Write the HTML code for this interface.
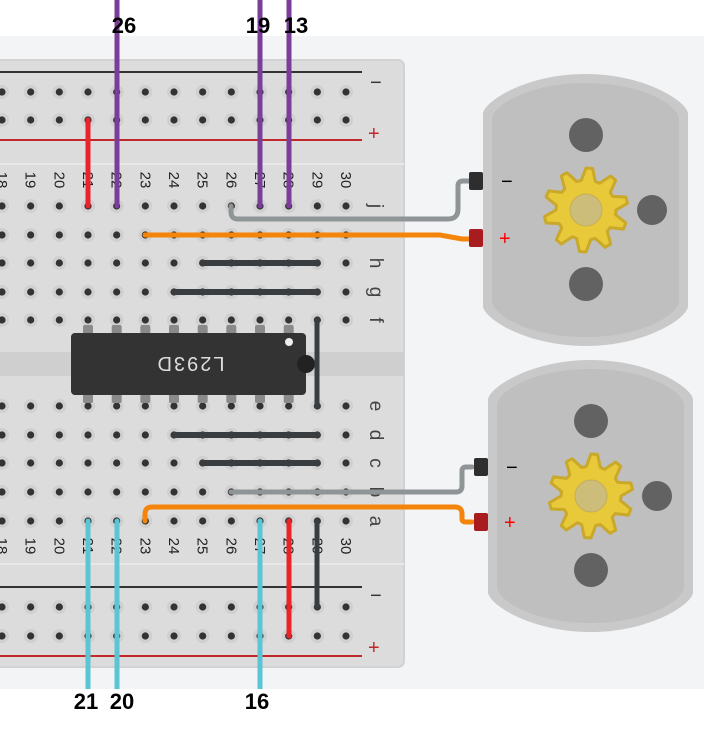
<!DOCTYPE html>
<html><head><meta charset="utf-8"><style>
html,body{margin:0;padding:0;background:#fff}
svg{display:block}
text{font-family:"Liberation Sans",sans-serif}
</style></head><body>
<svg id="s" width="704" height="732" viewBox="0 0 704 732" xmlns="http://www.w3.org/2000/svg">
<rect x="0" y="0" width="704" height="732" fill="#fff"/>
<rect x="0" y="36" width="704" height="653" fill="#f3f4f6"/>
<rect x="-20" y="60" width="424" height="607" rx="6" fill="#dcdcdc" stroke="#d2d2d2" stroke-width="2"/>
<rect x="-20" y="163" width="424" height="2" fill="#e8e8e8"/>
<rect x="-20" y="563" width="424" height="2" fill="#e8e8e8"/>
<rect x="-20" y="352" width="424" height="24" fill="#cfcfcf"/>
<line x1="0" y1="72" x2="362" y2="72" stroke="#333" stroke-width="2"/>
<line x1="0" y1="140" x2="362" y2="140" stroke="#c0282b" stroke-width="2"/>
<line x1="0" y1="587" x2="362" y2="587" stroke="#333" stroke-width="2"/>
<line x1="0" y1="656" x2="362" y2="656" stroke="#c0282b" stroke-width="2"/>
<g id="dots"></g>
<g font-size="15" fill="#222" id="nums"></g>
<g font-size="20" fill="#333">
<text x="370" y="89">−</text>
<text x="368" y="140" fill="#c0282b">+</text>
<text x="370" y="602">−</text>
<text x="368" y="654" fill="#c0282b">+</text>
</g>
<g id="letters" font-size="19" fill="#444"></g>

<g id="pins" fill="#8a8a8a"></g>
<rect x="71" y="333" width="235" height="62" rx="4" fill="#333"/>
<circle cx="306" cy="364" r="9" fill="#222"/>
<circle cx="289" cy="342" r="4" fill="#eee"/>
<text x="0" y="0" font-size="20" fill="#ddd" text-anchor="middle" transform="translate(190,357) rotate(180)" letter-spacing="2">L293D</text>

<g stroke-linecap="round" fill="none">
<line x1="203" y1="263" x2="317" y2="263" stroke="#3a3d40" stroke-width="6"/>
<line x1="174" y1="292" x2="317" y2="292" stroke="#3a3d40" stroke-width="6"/>
<line x1="317" y1="320" x2="317" y2="406" stroke="#3a3d40" stroke-width="5"/>
<line x1="174" y1="435" x2="317" y2="435" stroke="#3a3d40" stroke-width="6"/>
<line x1="203" y1="463" x2="317" y2="463" stroke="#3a3d40" stroke-width="6"/>
<line x1="88" y1="120" x2="88" y2="206" stroke="#e8232a" stroke-width="5"/>
<line x1="117" y1="0" x2="117" y2="206" stroke="#7a3d9a" stroke-width="5"/>
<line x1="260" y1="0" x2="260" y2="206" stroke="#7a3d9a" stroke-width="5"/>
<line x1="289" y1="0" x2="289" y2="206" stroke="#7a3d9a" stroke-width="5"/>
<path d="M231 206 V212 Q231 219 238 219 H448 Q458 219 458 209 V186 Q458 181 463 181 H470" stroke="#8f9496" stroke-width="5"/>
<path d="M145 235 H440 L462 239 H470" stroke="#f5850a" stroke-width="5"/>
<path d="M231 492 H456 Q462 492 462 486 V471 Q462 467 466 467 H472" stroke="#8f9496" stroke-width="5"/>
<path d="M145 521 V514 Q145 507 152 507 H455 Q462 507 462 514 V519 Q462 522 466 522 H472" stroke="#f5850a" stroke-width="5"/>
<line x1="88" y1="521" x2="88" y2="732" stroke="#5cc5d4" stroke-width="5"/>
<line x1="117" y1="521" x2="117" y2="732" stroke="#5cc5d4" stroke-width="5"/>
<line x1="260" y1="521" x2="260" y2="732" stroke="#5cc5d4" stroke-width="5"/>
<line x1="289" y1="521" x2="289" y2="636" stroke="#e8232a" stroke-width="5"/>
<line x1="317" y1="521" x2="317" y2="607" stroke="#3a3d40" stroke-width="5"/>
</g>
<rect x="0" y="0" width="704" height="36" fill="#fff"/>
<line x1="117" y1="0" x2="117" y2="36" stroke="#7a3d9a" stroke-width="5"/>
<line x1="260" y1="0" x2="260" y2="36" stroke="#7a3d9a" stroke-width="5"/>
<line x1="289" y1="0" x2="289" y2="36" stroke="#7a3d9a" stroke-width="5"/>
<rect x="0" y="689" width="704" height="43" fill="#fff"/>
<g font-size="22" font-weight="bold" fill="#000" text-anchor="middle">
<text x="124" y="33">26</text>
<text x="258" y="33">19</text>
<text x="296" y="33">13</text>
<text x="86" y="709">21</text>
<text x="122" y="709">20</text>
<text x="257" y="709">16</text>
</g>
<g id="motors"></g>
</svg>
<script>
var NS="http://www.w3.org/2000/svg";
function el(t,a,p){var e=document.createElementNS(NS,t);for(var k in a)e.setAttribute(k,a[k]);(p||document.getElementById('s')).appendChild(e);return e;}
var cx=function(c){return 2+(c-18)*28.667;};
var rows=[92,120,206,235,263,292,320,406,435,463,492,521,607,636];
var dots=document.getElementById('dots');
for(var c=17;c<=30;c++)for(var i=0;i<rows.length;i++){var x=cx(c),y=rows[i];
 el('circle',{cx:x,cy:y,r:7,fill:'#d0d0d0'},dots);el('circle',{cx:x,cy:y,r:3.6,fill:'#333'},dots);}
var nums=document.getElementById('nums');
for(var c=18;c<=30;c++){[180,546].forEach(function(y){var t=el('text',{'text-anchor':'middle',transform:'translate('+(cx(c)-5)+','+y+') rotate(90)'},nums);t.textContent=c;});}
var L=document.getElementById('letters');
[['j',206],['i',235],['h',263],['g',292],['f',320],['e',406],['d',435],['c',463],['b',492],['a',521]].forEach(function(p){var t=el('text',{'text-anchor':'middle',transform:'translate(370,'+p[1]+') rotate(90)'},L);t.textContent=p[0];});
var P=document.getElementById('pins');
for(var c=21;c<=28;c++){var x=cx(c);el('rect',{x:x-5,y:325,width:10,height:9,rx:2},P);el('rect',{x:x-5,y:394,width:10,height:9,rx:2},P);}
var M=document.getElementById('motors');
function gear(gx,gy){var d='',n=10;for(var i=0;i<n*4;i++){var a=(i/(n*4))*2*Math.PI-Math.PI/2;var r=(i%4==0||i%4==1)?42:30;d+=(i?'L':'M')+(gx+r*Math.cos(a)).toFixed(1)+' '+(gy+r*Math.sin(a)).toFixed(1);}return d+'Z';}
function shape(x0,y0,w,h,s){
 var xm=x0+w/2,x1=x0+w,y1=y0+h;
 return 'M'+x0+' '+(y0+s+8)+' C'+x0+' '+(y0+s-4)+' '+(xm-60)+' '+y0+' '+xm+' '+y0+
  ' C'+(xm+60)+' '+y0+' '+x1+' '+(y0+s-4)+' '+x1+' '+(y0+s+8)+
  ' L'+x1+' '+(y1-s-8)+' C'+x1+' '+(y1-s+4)+' '+(xm+60)+' '+y1+' '+xm+' '+y1+
  ' C'+(xm-60)+' '+y1+' '+x0+' '+(y1-s+4)+' '+x0+' '+(y1-s-8)+'Z';}
function motor(x0,y0,minusY,plusY){
 var w=205,h=272;
 el('path',{d:shape(x0,y0,w,h,32),fill:'#c9c9c9'},M);
 el('path',{d:shape(x0+9,y0+9,w-18,h-18,28),fill:'#bfbfbf'},M);
 var gx=x0+103,gy=y0+136;
 el('circle',{cx:gx,cy:y0+61,r:17,fill:'#626262'},M);
 el('circle',{cx:gx,cy:y0+210,r:17,fill:'#626262'},M);
 el('circle',{cx:x0+169,cy:gy,r:15,fill:'#626262'},M);
 el('path',{d:gear(gx,gy),fill:'#e8c93a',stroke:'#c9a82a','stroke-width':3,'stroke-linejoin':'round'},M);
 el('circle',{cx:gx,cy:gy,r:16,fill:'#cdbd7a',stroke:'#c2ad5a'},M);
 el('rect',{x:x0-14,y:minusY-9,width:14,height:18,rx:2,fill:'#2e2e2e'},M);
 el('rect',{x:x0-14,y:plusY-9,width:14,height:18,rx:2,fill:'#a81c1f'},M);
 var t=el('text',{x:x0+18,y:minusY+7,'font-size':20,fill:'#000'},M);t.textContent='−';
 t=el('text',{x:x0+16,y:plusY+7,'font-size':20,fill:'#f00'},M);t.textContent='+';
}
motor(483,74,181,238);
motor(488,360,467,522);
</script>
</body></html>
